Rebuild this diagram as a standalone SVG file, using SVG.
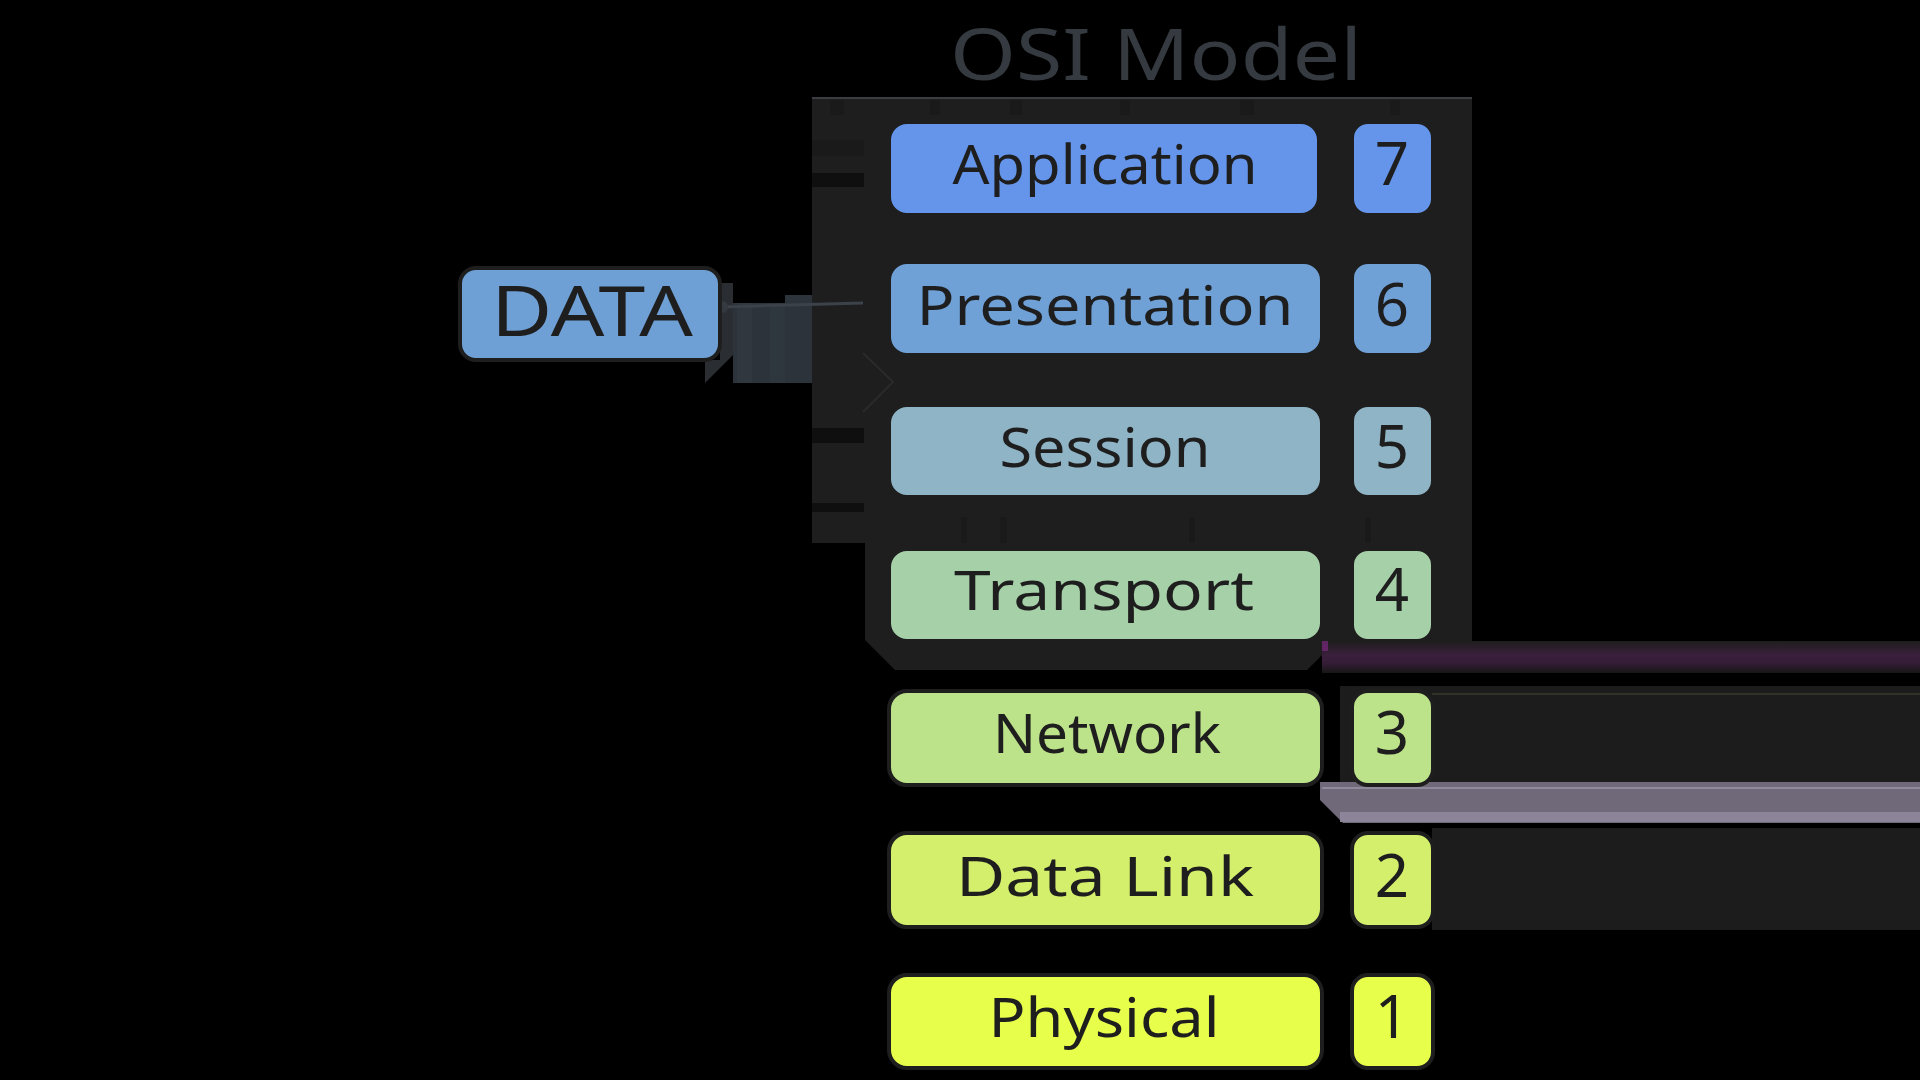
<svg xmlns="http://www.w3.org/2000/svg" width="1920" height="1080" viewBox="0 0 1920 1080">
<defs>
<linearGradient id="purpleBand" x1="0" y1="0" x2="0" y2="1">
<stop offset="0" stop-color="#1e1e1e"/>
<stop offset="0.45" stop-color="#3b1f3d"/>
<stop offset="0.7" stop-color="#341c36"/>
<stop offset="1" stop-color="#161616"/>
</linearGradient>
<style>
.box{stroke:#1e1e1e;stroke-width:4}
.lbl{font-family:"Noto Sans","Liberation Sans",sans-serif;font-size:54px;fill:#1e1e1e;text-anchor:middle}
.num{font-family:"Noto Sans","Liberation Sans",sans-serif;font-size:60px;fill:#1e1e1e;text-anchor:middle}
.region{fill:#1e1e1e}
.bar{fill:#0f0f0f}
.stripe{fill:#1a1a1a}
</style>
</defs>
<rect width="1920" height="1080" fill="#000000"/>

<!-- background artefacts -->
<rect class="region" x="812" y="98" width="660" height="445"/>
<polygon class="region" points="865,543 1472,543 1472,641 1322,641 1322,655 1307,670 895,670 865,640"/>
<line x1="812" y1="98" x2="1472" y2="98" stroke="#3a3d42" stroke-width="2"/>
<rect class="stripe" x="830" y="100" width="14" height="15"/>
<rect class="stripe" x="930" y="100" width="10" height="15"/>
<rect class="stripe" x="1010" y="100" width="12" height="15"/>
<rect class="stripe" x="1120" y="100" width="10" height="15"/>
<rect class="stripe" x="1240" y="100" width="14" height="15"/>
<rect class="stripe" x="1390" y="100" width="10" height="15"/>
<rect class="bar" x="812" y="173" width="52" height="14"/>
<rect class="stripe" x="812" y="140" width="52" height="16"/>
<rect class="bar" x="812" y="428" width="52" height="15"/>
<rect class="bar" x="812" y="503" width="52" height="9"/>
<rect class="stripe" x="961" y="517" width="6" height="26"/>
<rect class="stripe" x="1000" y="517" width="7" height="26"/>
<rect class="stripe" x="1189" y="517" width="6" height="26"/>
<rect class="stripe" x="1365" y="517" width="6" height="26"/>
<polyline points="863,353 893,382 863,412" fill="none" stroke="#2a2a2a" stroke-width="2"/>
<rect x="1322" y="641" width="598" height="32" fill="url(#purpleBand)"/>
<rect x="1322" y="641" width="6" height="10" fill="#8a2a8e" opacity="0.6"/>
<rect x="1340" y="686" width="580" height="96" fill="#1c1c1c"/>
<line x1="1432" y1="694" x2="1920" y2="694" stroke="#3a3a2c" stroke-width="1.5"/>
<polygon points="1320,782 1920,782 1920,823 1343,823 1320,800" fill="#706979"/>
<line x1="1322" y1="788" x2="1920" y2="788" stroke="#9b94a8" stroke-width="1.5"/>
<rect x="1340" y="812" width="580" height="10" fill="#8c859a"/>
<rect x="1432" y="828" width="488" height="102" fill="#1c1c1c"/>
<polygon points="733,303 785,303 785,295 812,295 812,383 733,383" fill="#2c333b"/>
<rect x="737" y="303" width="15" height="80" fill="#30373e"/>
<rect x="770" y="303" width="15" height="80" fill="#2d373d"/>
<polygon points="720,283 733,283 733,355 705,383 705,360 720,360" fill="#2a2e33"/>

<text x="950" y="80" font-family="'Noto Sans','Liberation Sans',sans-serif" font-size="72" fill="#343a40" textLength="412" lengthAdjust="spacingAndGlyphs">OSI Model</text>

<g id="connectors">
<path d="M722,307 L863,303" fill="none" stroke="#3c424a" stroke-width="3"/>
<circle cx="722" cy="307" r="6" fill="#343a40"/>
</g>

<g id="node-data">
<rect class="box" x="460" y="268" width="260" height="92" rx="16" fill="#6fa0d5"/>
<text class="lbl" x="592" y="336" style="font-size:70px" textLength="202" lengthAdjust="spacingAndGlyphs">DATA</text>
</g>

<g id="node-application">
<rect class="box" x="889" y="122" width="430" height="93" rx="18" fill="#6595ea"/>
<text class="lbl" x="1105" y="184" textLength="305" lengthAdjust="spacingAndGlyphs">Application</text>
</g>
<g id="node-7">
<rect class="box" x="1352" y="122" width="81" height="93" rx="16" fill="#6595ea"/>
<text class="num" x="1392" y="185">7</text>
</g>

<g id="node-presentation">
<rect class="box" x="889" y="262" width="433" height="93" rx="18" fill="#6fa0d6"/>
<text class="lbl" x="1105" y="325" textLength="377" lengthAdjust="spacingAndGlyphs">Presentation</text>
</g>
<g id="node-6">
<rect class="box" x="1352" y="262" width="81" height="93" rx="16" fill="#6fa0d6"/>
<text class="num" x="1392" y="326">6</text>
</g>

<g id="node-session">
<rect class="box" x="889" y="405" width="433" height="92" rx="18" fill="#8fb4c5"/>
<text class="lbl" x="1105" y="467" textLength="211" lengthAdjust="spacingAndGlyphs">Session</text>
</g>
<g id="node-5">
<rect class="box" x="1352" y="405" width="81" height="92" rx="16" fill="#8fb4c5"/>
<text class="num" x="1392" y="468">5</text>
</g>

<g id="node-transport">
<rect class="box" x="889" y="549" width="433" height="92" rx="18" fill="#a6d0a8"/>
<text class="lbl" x="1104" y="610" textLength="300" lengthAdjust="spacingAndGlyphs">Transport</text>
</g>
<g id="node-4">
<rect class="box" x="1352" y="549" width="81" height="92" rx="16" fill="#a6d0a8"/>
<text class="num" x="1392" y="611">4</text>
</g>

<g id="node-network">
<rect class="box" x="889" y="691" width="433" height="94" rx="18" fill="#bde38a"/>
<text class="lbl" x="1107" y="753" textLength="228" lengthAdjust="spacingAndGlyphs">Network</text>
</g>
<g id="node-3">
<rect class="box" x="1352" y="691" width="81" height="94" rx="16" fill="#bde38a"/>
<text class="num" x="1392" y="754">3</text>
</g>

<g id="node-datalink">
<rect class="box" x="889" y="833" width="433" height="94" rx="18" fill="#d3ef6b"/>
<text class="lbl" x="1105" y="896" textLength="298" lengthAdjust="spacingAndGlyphs">Data Link</text>
</g>
<g id="node-2">
<rect class="box" x="1352" y="833" width="81" height="94" rx="16" fill="#d3ef6b"/>
<text class="num" x="1392" y="897">2</text>
</g>

<g id="node-physical">
<rect class="box" x="889" y="975" width="433" height="93" rx="18" fill="#e7ff4b"/>
<text class="lbl" x="1104" y="1037" textLength="231" lengthAdjust="spacingAndGlyphs">Physical</text>
</g>
<g id="node-1">
<rect class="box" x="1352" y="975" width="81" height="93" rx="16" fill="#e7ff4b"/>
<text class="num" x="1392" y="1038">1</text>
</g>
</svg>
